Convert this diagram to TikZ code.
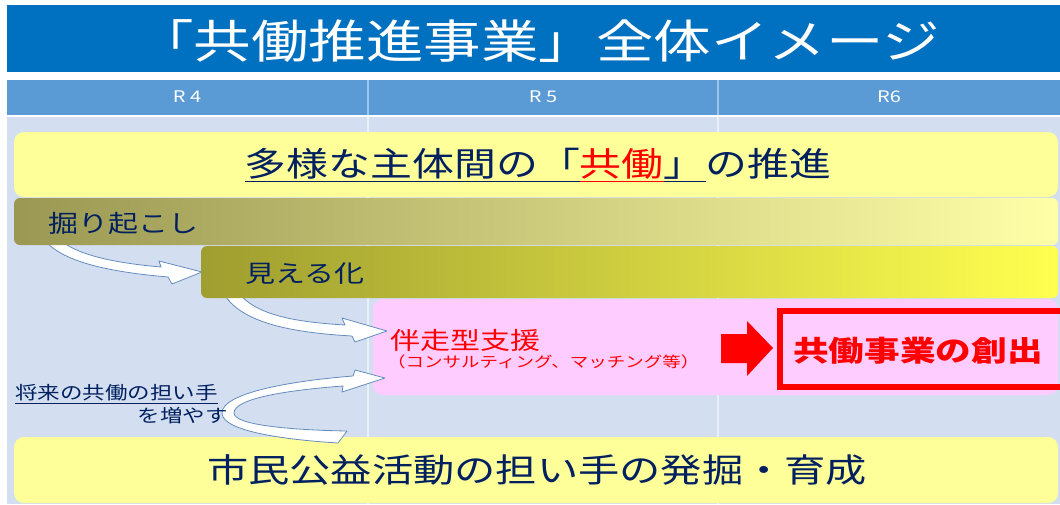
\documentclass[tikz,border=0pt]{standalone}
\usepackage{fontspec}
\setmainfont{Noto Sans CJK JP}[FakeStretch=1.25]
\usetikzlibrary{shadings}
\definecolor{titleblue}{RGB}{0,112,192}
\definecolor{headblue}{RGB}{91,155,213}
\definecolor{headline}{RGB}{160,196,232}
\definecolor{panelbg}{RGB}{211,222,240}
\definecolor{panelline}{RGB}{234,240,248}
\definecolor{lightyellow}{RGB}{255,255,153}
\definecolor{bandAleft}{RGB}{154,152,82}
\definecolor{bandAright}{RGB}{255,255,168}
\definecolor{bandBleft}{RGB}{159,158,48}
\definecolor{bandBright}{RGB}{255,255,80}
\definecolor{pinkbox}{RGB}{255,204,255}
\definecolor{navy}{RGB}{0,32,96}
\definecolor{arrowline}{RGB}{100,140,190}
\newcommand{\myul}[1]{\underline{\vphantom{」共働「}#1}}
\tikzset{
  txt/.style={inner sep=0pt, text=navy},
  hdr/.style={inner sep=0pt, text=white, font=\fontsize{16}{18}\selectfont},
  wArrow/.style={fill=white, draw=arrowline, line width=0.8pt, line join=round},
  roundbox/.style={rounded corners=10pt},
}
\begin{document}
\begin{tikzpicture}[x=1pt,y=-1pt]
\useasboundingbox (0,0) rectangle (1060,504);
\clip (0,0) rectangle (1060,504);
\fill[white] (0,0) rectangle (1060,504);
% title bar
\fill[titleblue] (7,5) rectangle (1060,72);
\node[inner sep=0pt, text=white, font=\fontsize{46}{50}\selectfont] (title) at (538,41) {「共働推進事業」全体イメージ};
% header row
\fill[headblue] (7,80) rectangle (1060,115);
\draw[headline, line width=1.5pt] (368,80) -- (368,115);
\draw[headline, line width=1.5pt] (718,80) -- (718,115);
\node[hdr] (r4) at (187,97) {R 4};
\node[hdr] (r5) at (543,97) {R 5};
\node[hdr] (r6) at (889,97) {R6};
% panel
\fill[panelbg] (7,117) rectangle (1060,504);
\draw[panelline, line width=2pt] (368,117) -- (368,504);
\draw[panelline, line width=2pt] (718,117) -- (718,504);
% pink box
\fill[pinkbox, roundbox] (373,299) rectangle (1058,395);
% red arrow and red box
\fill[red] (721,334) -- (747,334) -- (747,321) -- (773,348) -- (747,376) -- (747,363) -- (721,363) -- cycle;
\draw[red, line width=6pt] (780,311) rectangle (1066,387);
% bottom yellow
\fill[lightyellow, roundbox] (14,437) rectangle (1058,503);
% white arrows
\draw[wArrow] (43,238) .. controls (60,262) and (110,272) .. (168,277) -- (172,284) -- (202,272) -- (159,261) -- (161,267) .. controls (115,263) and (75,255) .. (58,238) -- cycle;
\draw[wArrow] (223,292) .. controls (240,325) and (300,333) .. (352,336) -- (355,342) -- (387,331) -- (342,318) -- (345,325) .. controls (295,322) and (255,315) .. (238,292) -- cycle;
\draw[wArrow] (353,376) .. controls (290,381) and (222,393) .. (222,413) .. controls (222,432) and (290,440) .. (338,443) -- (347,431) .. controls (290,430) and (234,425) .. (234,413) .. controls (234,398) and (290,390) .. (343,386) -- (342,392) -- (385,378) -- (355,370) -- cycle;
% top yellow and bands
\fill[lightyellow, roundbox] (14,132) rectangle (1058,197);
\shade[left color=bandAleft, right color=bandAright, rounded corners=6pt] (14,198) rectangle (1058,245);
\shade[left color=bandBleft, right color=bandBright, rounded corners=6pt] (201,246) rectangle (1058,298);
% texts
\node[txt, font=\fontsize{33.5}{38}\selectfont] (promo) at (538,165) {\myul{多様な主体間の「}\textcolor{red}{\myul{共働}}\myul{」}の推進};
\node[txt, anchor=west, font=\fontsize{24}{28}\selectfont] (dig) at (48,223) {掘り起こし};
\node[txt, anchor=west, font=\fontsize{24}{28}\selectfont] (vis) at (245,274) {見える化};
\node[inner sep=0pt, anchor=west, text=red, font=\fontsize{24}{28}\selectfont] (support) at (390,340) {伴走型支援};
\node[inner sep=0pt, anchor=west, text=red, font=\fontsize{14.8}{17}\selectfont] (supsub) at (387,362) {（コンサルティング、マッチング等）};
\node[inner sep=0pt, text=red, font=\bfseries\fontsize{28.5}{32}\selectfont] (create) at (918,351) {共働事業の創出};
\node[txt, anchor=west, font=\fontsize{18}{21}\selectfont] (future1) at (15,394) {\underline{将来の共働の担い手}};
\node[txt, anchor=east, font=\fontsize{18}{21}\selectfont] (future2) at (228,416) {を増やす};
\node[txt, font=\fontsize{33}{38}\selectfont] (bottom) at (537,470) {市民公益活動の担い手の発掘・育成};
\end{tikzpicture}
\end{document}
